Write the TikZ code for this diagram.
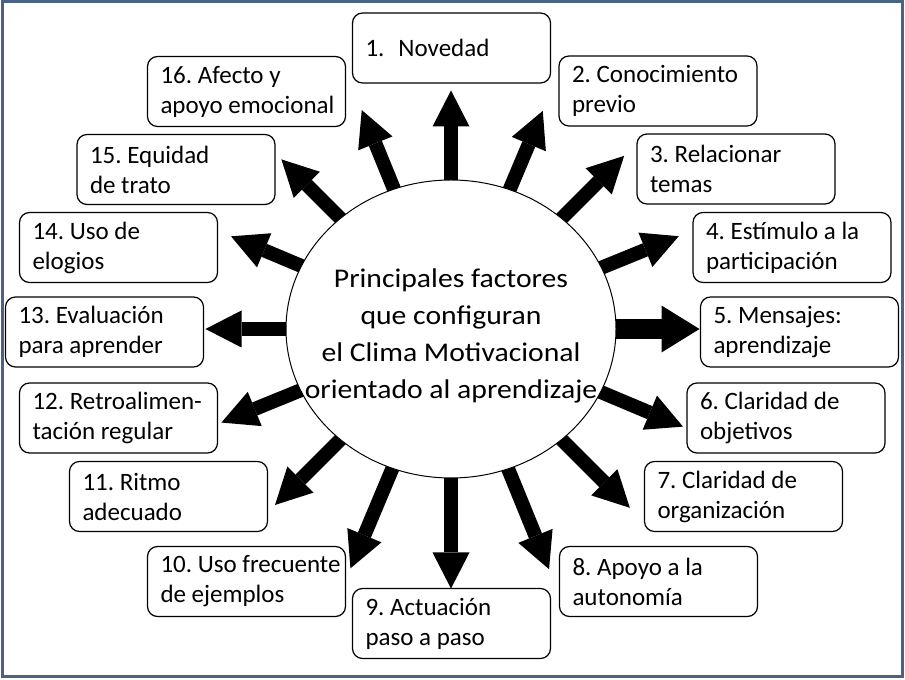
\documentclass[tikz,border=0pt]{standalone}
\usepackage{fontspec}
\setmainfont{Carlito}
\newfontfamily\widefont[FakeStretch=1.1]{Carlito}
\usetikzlibrary{shapes.geometric,arrows.meta,calc,backgrounds}
\definecolor{framecol}{RGB}{74,99,130}
\frenchspacing
\tikzset{
  factor/.style={draw, line width=1.2pt, rounded corners=10pt, minimum height=70pt,
    text width=172pt, inner xsep=13pt, inner ysep=0pt, align=flush left,
    font=\fontsize{25}{30}\selectfont},
  hub/.style={ellipse, draw, line width=1pt, fill=white, minimum width=330pt,
    minimum height=298pt, inner sep=0pt},
  hubtext/.style={align=center, font=\widefont\fontsize{27}{37}\selectfont},
  push/.style={line width=14pt, -{Triangle[width=37pt,length=36pt,line width=0pt]}},
  bigpush/.style={line width=20pt, -{Triangle[width=47pt,length=38pt,line width=0pt]}}
}
\begin{document}
\begin{tikzpicture}[x=1pt,y=1pt]
    \useasboundingbox (0,0) rectangle (905,680);
    \draw[framecol, line width=3pt] (2.5,3) rectangle (902,678);

    % centre
    \node[hub] (ell) at (451,351) {};
    \node[hubtext] (title) at (451,344) {Principales factores\\ que configuran\\ el Clima Motivacional\\ orientado al aprendizaje};

    % factors
    %% right side
    \node[factor] (f1) at (451.5,632) {1.\hspace{14pt}Novedad};
    \node[factor] (f2) at (658,589) {2. Conocimiento\\ previo};
    \node[factor] (f3) at (736,511) {3. Relacionar\\ temas};
    \node[factor] (f4) at (792,432.5) {4. Estímulo a la\\ participación};
    \node[factor] (f5) at (799.5,348) {5. Mensajes:\\ aprendizaje};
    \node[factor] (f6) at (786,262) {6. Claridad de\\ objetivos};
    \node[factor] (f7) at (743.5,183.5) {7. Claridad de\\ organización};
    \node[factor] (f8) at (658.5,98.5) {8. Apoyo a la\\ autonomía};
    %% left side
    \node[factor] (f9) at (451.5,56.5) {9. Actuación\\ paso a paso};
    \node[factor] (f10) at (246.5,98.5) {\mbox{10. Uso frecuente}\\ de ejemplos};
    \node[factor] (f11) at (168.5,183.5) {11. Ritmo\\ adecuado};
    \node[factor] (f12) at (118.5,262) {\mbox{12. Retroalimen-}\\ tación regular};
    \node[factor] (f13) at (104.5,348) {13. Evaluación\\ para aprender};
    \node[factor] (f14) at (118.5,432.5) {14. Uso de\\ elogios};
    \node[factor] (f15) at (176,510.5) {15. Equidad\\ de trato};
    \node[factor] (f16) at (246.5,588.5) {16. Afecto y\\ \mbox{apoyo emocional}};

    % arrow tips
    \coordinate (t1) at ($(ell.90)+(90:89pt)$);
    \coordinate (t2) at ($(ell.67.5)+(67.5:85pt)$);
    \coordinate (t3) at ($(ell.45)+(45:88pt)$);
    \coordinate (t4) at ($(ell.22.5)+(22.5:83pt)$);
    \coordinate (t5) at ($(ell.0)+(0:83pt)$);
    \coordinate (t6) at ($(ell.337.5)+(337.5:89pt)$);
    \coordinate (t7) at ($(ell.315)+(315:96pt)$);
    \coordinate (t8) at ($(ell.292.5)+(292.5:108pt)$);
    \coordinate (t9) at ($(ell.270)+(270:110pt)$);
    \coordinate (t10) at ($(ell.247.5)+(247.5:108pt)$);
    \coordinate (t11) at ($(ell.225)+(225:92pt)$);
    \coordinate (t12) at ($(ell.202.5)+(202.5:85pt)$);
    \coordinate (t13) at ($(ell.180)+(180:80pt)$);
    \coordinate (t14) at ($(ell.157.5)+(157.5:76pt)$);
    \coordinate (t15) at ($(ell.135)+(135:83pt)$);
    \coordinate (t16) at ($(ell.112.5)+(112.5:85pt)$);

    % arrows
    \begin{scope}[on background layer]
      \draw[push] (ell.center) -- (t1);
      \draw[push] (ell.center) -- (t2);
      \draw[push] (ell.center) -- (t3);
      \draw[push] (ell.center) -- (t4);
      \draw[bigpush] (ell.center) -- (t5);
      \draw[push] (ell.center) -- (t6);
      \draw[push] (ell.center) -- (t7);
      \draw[push] (ell.center) -- (t8);
      \draw[push] (ell.center) -- (t9);
      \draw[push] (ell.center) -- (t10);
      \draw[push] (ell.center) -- (t11);
      \draw[push] (ell.center) -- (t12);
      \draw[push] (ell.center) -- (t13);
      \draw[push] (ell.center) -- (t14);
      \draw[push] (ell.center) -- (t15);
      \draw[push] (ell.center) -- (t16);
    \end{scope}
  \end{tikzpicture}
\end{document}
